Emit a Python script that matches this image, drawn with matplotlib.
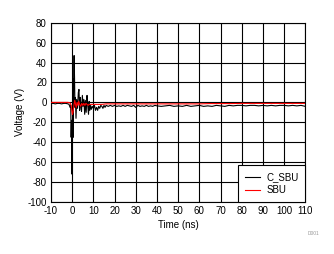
import matplotlib
matplotlib.use("Agg")
import matplotlib.pyplot as plt

plt.rcParams['font.family'] = ['Liberation Sans', 'DejaVu Sans']
plt.rcParams['axes.unicode_minus'] = False

# C_SBU series (time in ns, voltage in V)
c_sbu_t = [-10, -9, -8, -7, -6, -5, -4, -3, -2, -1.5, -1.0, -0.7, -0.5, -0.3, -0.1, 0.1,
           0.3, 0.5, 0.7, 0.9, 1.1, 1.3, 1.5, 1.8, 2.1, 2.5, 2.9, 3.2, 3.5, 3.8, 4.1,
           4.4, 4.8, 5.1, 5.5, 5.9, 6.2, 6.6, 7.0, 7.3, 7.7, 8.0, 8.3, 8.7, 9.0, 9.5,
           10, 10.5, 11, 11.5, 12, 12.5, 13, 13.5, 14, 14.5, 15, 15.5, 16, 17, 18, 19,
           20, 21, 22, 23, 24, 25, 26, 27, 28, 29, 30, 31, 32, 33, 34, 35, 36, 37, 38,
           39, 40, 42, 44, 46, 48, 50, 52, 54, 56, 58, 60, 62, 64, 66, 68, 70, 72, 74,
           76, 78, 80, 82, 84, 86, 88, 90, 92, 94, 96, 98, 100, 102, 104, 106, 108, 110]
c_sbu_v = [-1, -1, -1.5, -1, -1, -1.5, -1, -1, -1.5, -2, -5, -3, -35, -18, -72, -35,
           24, -35, 25, 47, 25, -5, 5, -16, 3, -6, 10, 13, -8, 5, -3,
           -9, 7, -4, 3, -12, 2, -10, 7, -2, -12, 1, -8, -3, -7, -4,
           -6, -3, -8, -5, -8, -4, -6, -3, -4, -6, -3, -5, -3, -4, -3, -4,
           -3, -4, -3.5, -4, -3, -4, -3, -3.5, -4, -3, -5, -3, -4, -3.5, -4, -3, -4, -3.5, -4,
           -3, -3.5, -4, -3.5, -3, -4, -3.5, -4, -3, -4, -3.5, -3, -4, -3.5, -4, -3, -3.5, -4, -3,
           -3.5, -3, -3, -3.5, -3, -3, -3.5, -3, -3.5, -3, -3.5, -3, -3, -3.5, -3, -3.5, -3, -4]

# SBU series
sbu_t = [-10, -5, -2, -1.0, -0.5, -0.2, 0.1, 0.4, 0.8, 1.2, 1.5, 1.9, 2.3, 2.7, 3.1, 3.5,
         4.0, 4.5, 5.0, 5.5, 6.0, 6.5, 7.0, 7.5, 8.0, 9, 10, 12, 14, 16, 18, 20, 25, 30,
         35, 40, 45, 50, 55, 60, 65, 70, 75, 80, 85, 90, 95, 100, 105, 110]
sbu_v = [0, 0, 0, -0.5, -3, -8, -12, -10, -3, 2, -1, -5, 0, -3, 1, -2,
         -4, -1, -3, -1, -3, -1, -2, -3, -2, -2, -2, -2, -2, -1.5, -1.5, -1.5, -1.5, -1.5,
         -1.5, -1.5, -1.5, -1.5, -1.5, -1.5, -1.2, -1.2, -1.2, -1, -1, -1, -1, -1, -1, -1]

x_ticks = list(range(-10, 111, 10))
y_ticks = list(range(-100, 81, 20))

fig = plt.figure(figsize=(3.34, 2.54), dpi=100)
ax = fig.add_axes([0.1527, 0.2047, 0.7614, 0.706])

ax.plot(c_sbu_t, c_sbu_v, color='black', lw=0.8, label='C_SBU', zorder=3)
ax.plot(sbu_t, sbu_v, color='#ff0000', lw=0.8, label='SBU', zorder=4)

ax.set_xlim(-10, 110)
ax.set_ylim(-100, 80)
ax.set_xticks(x_ticks)
ax.set_yticks(y_ticks)
ax.grid(True, color='black', lw=0.8)
ax.tick_params(length=0, labelsize=7, pad=3)
for s in ax.spines.values():
    s.set_linewidth(0.8)

ax.set_xlabel('Time (ns)', fontsize=7, labelpad=3)
ax.set_ylabel('Voltage (V)', fontsize=7, labelpad=2)

leg = ax.legend(loc='lower right', fontsize=7, frameon=True, fancybox=False,
                borderaxespad=0, handlelength=1.6, handletextpad=0.6,
                borderpad=0.7, labelspacing=0.3)
leg.get_frame().set_edgecolor('black')
leg.get_frame().set_linewidth(0.8)
leg.get_frame().set_alpha(1)

fig.text(0.955, 0.075, 'D001', fontsize=3.5, color='#999999', ha='right')

fig.savefig('out.png', dpi=100)
